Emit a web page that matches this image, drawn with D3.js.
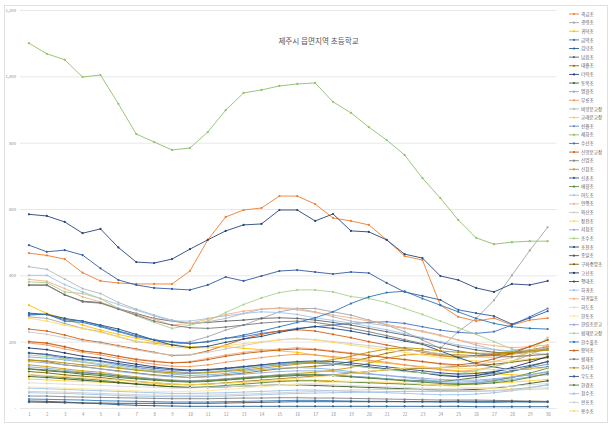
<!DOCTYPE html>
<html><head><meta charset="utf-8">
<script src="https://cdn.jsdelivr.net/npm/d3@7"></script>
<style>
body{margin:0;background:#fff}
svg{display:block}
text{font-family:"Noto Sans CJK KR","Noto Sans",sans-serif}
</style>
</head><body>
<svg id="chart" width="612" height="424"></svg>
<script>
const chartTitle = "제주시 읍면지역 초등학교";
const categories = [1,2,3,4,5,6,7,8,9,10,11,12,13,14,15,16,17,18,19,20,21,22,23,24,25,26,27,28,29,30];
const yTicks = [0,200,400,600,800,1000,1200];
const yTickLabels = ["-","200","400","600","800","1,000","1,200"];
const schoolNames = ["곽금초","광령초","귀덕초","금악초","김녕초","납읍초","대흘초","더럭초","동복초","명월초","무릉초","비양분교장","교래분교장","선흘초","세화초","수산초","신양분교장","신엄초","신창초","신촌초","애월초","어도초","연평초","와산초","장전초","저청초","조수초","조천초","종달초","구좌중앙초","고산초","평대초","하귀초","하귀일초","하도초","한동초","한림초분교","협재분교장","한수풀초","함덕초","협재초","추자초","우도초","한경초","청수초","판포초","용수초"];
const seriesColors = ["#ED7D31","#A5A5A5","#FFC000","#4472C4","#255E91","#636363","#997300","#264478","#43682B","#7CAFDD","#F1975A","#B7B7B7","#FFCD33","#698ED0","#8CC168","#327DC2","#D26012","#848484","#CC9A00","#335AA1","#5A8A39","#9DC3E6","#F4B183","#C9C9C9","#FFD966","#8FAADC","#A9D18E","#1F4E79","#525252","#7F6000","#203864","#375623","#9DC3E6","#F4B183","#DBDBDB","#FFE699","#8FAADC","#A9D18E","#2E75B6","#C55A11","#7B7B7B","#BF9000","#2F5597","#548235","#9DC3E6","#D0CECE","#FFD966"];
const seriesValues = [
 [467,460,449,408,383,377,374,374,374,413,507,576,597,603,639,639,615,573,564,552,507,458,446,310,275,262,271,250,265,271],
 [275,270,255,240,230,215,200,195,190,200,215,235,250,270,290,300,300,290,280,265,250,230,205,180,230,270,325,400,475,545],
 [310,285,270,250,235,222,210,200,190,185,182,185,180,176,172,168,160,152,145,140,135,130,125,118,112,108,104,100,98,100],
 [280,283,262,258,245,230,215,205,200,195,200,210,215,225,232,240,245,250,255,258,260,255,245,235,228,225,230,250,275,300],
 [21,20,18,15,13,10,8,7,6,5,5,5,5,5,5,5,5,5,5,5,5,5,5,5,5,4,4,4,4,4],
 [371,371,341,322,318,300,285,270,262,255,258,262,265,270,272,270,265,258,250,240,230,220,210,198,185,175,168,165,170,175],
 [145,140,130,125,118,112,106,100,96,92,95,100,105,112,118,122,126,130,140,152,165,175,172,162,160,158,160,165,175,185],
 [584,579,561,527,540,484,440,437,449,479,507,534,552,555,597,597,564,585,534,531,507,464,452,398,386,362,350,374,371,383],
 [118,112,108,102,98,92,88,84,80,78,80,84,88,92,95,98,100,98,95,92,88,84,82,80,85,92,100,110,125,140],
 [154,150,145,138,130,122,115,108,102,98,100,104,110,116,120,122,120,116,110,104,98,92,86,80,78,80,85,92,100,110],
 [196,190,178,168,160,150,140,132,126,125,130,138,145,152,158,162,160,155,150,144,138,130,122,115,110,115,125,140,160,185],
 [426,418,389,360,345,318,298,280,265,255,260,270,285,298,302,300,290,275,262,255,248,240,232,220,205,190,176,168,172,178],
 [87,85,82,80,78,76,74,72,70,70,72,75,78,80,82,84,84,82,80,78,76,74,72,70,70,72,75,78,82,86],
 [166,160,150,145,140,130,122,115,110,106,108,112,118,125,130,135,135,132,128,122,118,112,106,100,96,98,104,112,122,132],
 [1100,1068,1050,998,1004,917,826,802,778,784,832,898,950,959,971,977,980,923,890,847,808,763,693,633,567,513,494,500,503,503],
 [27,26,25,24,22,21,20,19,18,18,18,19,20,21,22,23,23,22,21,20,20,19,19,18,18,17,17,18,18,19],
 [238,232,220,206,198,188,178,168,158,160,172,190,208,222,232,236,232,222,212,200,190,180,168,158,152,156,162,170,185,205],
 [36,36,34,33,32,31,30,29,28,28,28,29,30,30,31,31,30,30,29,28,27,26,25,24,24,24,23,22,21,20],
 [130,125,118,112,108,100,94,88,84,82,84,88,92,96,100,104,108,114,122,135,150,160,162,158,155,155,158,162,168,175],
 [491,471,476,461,421,386,371,362,359,356,371,395,383,398,413,416,410,404,410,407,377,350,338,326,296,286,277,253,271,292],
 [100,96,92,88,84,78,72,68,64,62,64,68,72,76,80,82,82,80,78,76,74,72,70,68,70,75,82,92,105,120],
 [400,400,372,350,330,312,295,278,262,262,270,278,285,290,288,282,272,264,256,246,236,224,212,200,190,182,176,172,175,180],
 [388,382,360,335,320,300,282,268,250,255,268,282,292,298,300,296,288,280,272,262,252,242,230,218,205,195,188,182,185,190],
 [229,222,212,202,195,185,175,166,160,160,168,178,188,198,206,210,206,200,194,188,182,176,170,164,158,154,152,154,158,164],
 [271,262,250,240,228,215,202,192,184,180,182,188,194,200,205,208,205,198,190,182,175,168,160,152,146,142,140,142,148,155],
 [140,136,130,124,118,110,104,98,94,92,94,98,102,106,110,112,112,110,106,102,98,94,90,86,84,84,88,94,100,108],
 [380,378,350,345,330,300,278,258,240,250,262,288,312,332,348,356,356,350,336,330,318,300,282,262,242,222,200,178,168,160],
 [286,282,270,262,250,238,222,205,190,182,186,198,208,216,228,238,246,240,232,222,212,202,192,172,152,134,124,114,118,124],
 [18,17,16,15,15,14,14,14,14,14,14,15,16,17,18,19,19,19,19,19,19,19,19,19,20,20,20,20,19,18],
 [110,106,100,96,92,86,80,76,72,70,72,76,80,84,88,92,96,100,105,110,115,118,120,122,125,128,132,138,145,152],
 [181,176,166,156,150,140,132,124,118,114,116,120,125,130,134,138,138,134,130,124,118,112,106,98,94,98,108,122,138,155],
 [95,92,88,84,80,76,72,68,64,62,62,64,66,68,70,70,68,66,64,62,60,58,56,54,54,56,60,66,74,82],
 [60,58,56,54,52,50,48,46,44,44,45,46,48,50,52,54,54,52,50,48,46,44,42,40,40,42,46,52,60,70],
 [199,194,184,172,165,156,148,142,136,140,150,160,168,174,178,182,178,172,166,160,152,146,140,132,126,130,140,152,168,190],
 [76,74,72,70,68,66,64,62,60,60,62,64,66,68,70,72,72,70,68,66,64,62,60,58,58,60,62,66,70,74],
 [63,62,60,58,56,54,52,50,50,50,52,56,60,64,68,72,75,78,80,80,78,76,72,68,64,60,58,58,60,62],
 [124,120,114,108,104,98,92,88,84,82,84,88,92,96,100,102,102,100,96,92,88,84,80,76,74,76,80,86,94,102],
 [160,155,148,140,134,126,118,112,106,104,108,114,120,128,134,138,138,134,128,122,116,110,106,102,104,112,124,140,170,212],
 [283,282,266,262,248,232,218,206,198,194,200,210,220,232,245,258,272,290,315,335,348,352,330,310,290,270,255,245,240,238],
 [200,196,185,172,166,156,146,140,136,138,146,156,164,170,175,178,176,170,164,158,152,146,140,134,130,136,148,165,185,205],
 [370,370,342,320,316,298,280,262,250,242,240,244,250,256,260,262,258,250,240,230,218,206,194,182,172,164,158,155,158,162],
 [145,142,136,130,126,120,114,110,106,104,106,110,114,120,126,132,138,146,156,168,178,182,178,172,168,165,165,168,172,178],
 [166,162,154,148,142,134,126,120,115,112,114,118,124,130,136,140,142,140,136,130,124,118,112,106,102,104,110,118,128,140],
 [118,115,110,106,102,96,90,86,82,80,82,86,90,94,98,100,100,98,94,90,86,82,78,74,72,72,76,82,92,104],
 [46,45,44,42,40,38,36,35,34,34,35,36,38,40,42,44,45,46,47,48,49,50,50,50,50,50,52,56,62,70],
 [50,49,48,46,44,42,40,39,38,38,39,40,42,44,46,48,50,52,54,55,56,56,55,54,53,52,52,54,56,58],
 [100,98,95,92,88,84,80,76,72,70,72,75,78,82,86,90,94,98,104,110,116,120,122,122,120,118,116,116,118,122]
];

const svg = d3.select("#chart");
const plot = {left:20, right:556.6, top:10, bottom:408};

svg.append("rect").attr("x",4.5).attr("y",5.5).attr("width",603).attr("height",417)
  .attr("fill","#fff").attr("stroke","#D9D9D9").attr("stroke-width",0.8);

const x = d3.scalePoint().domain(categories).range([plot.left, plot.right]).padding(0.5);
const y = d3.scaleLinear().domain([0,1200]).range([plot.bottom, plot.top]);

const yAxis = d3.axisLeft(y).tickValues(yTicks).tickSize(-(plot.right-plot.left))
  .tickFormat((d,i)=>yTickLabels[i]);
const gy = svg.append("g").attr("transform",`translate(${plot.left},0)`).call(yAxis);
gy.select(".domain").remove();
gy.selectAll(".tick line").attr("stroke","#D9D9D9").attr("stroke-width",0.6);
gy.selectAll(".tick text").attr("x",-4).attr("fill","#8C8C8C").style("font-size","4.2px");

const xAxis = d3.axisBottom(x).tickSize(0).tickPadding(5);
const gx = svg.append("g").attr("transform",`translate(0,${plot.bottom})`).call(xAxis);
gx.select(".domain").remove();
gx.selectAll(".tick text").attr("fill","#8C8C8C").style("font-size","4.4px");

svg.append("text").attr("x",318.5).attr("y",43.5).attr("text-anchor","middle")
  .attr("fill","#595959").style("font-size","7.6px").text(chartTitle);

const line = d3.line().x((d,i)=>x(categories[i])).y(d=>y(d));
const series = schoolNames.map((name,i)=>({name, color:seriesColors[i], values:seriesValues[i]}));

const gs = svg.append("g").selectAll("g").data(series).join("g");
gs.append("path").attr("d",d=>line(d.values)).attr("fill","none")
  .attr("stroke",d=>d.color).attr("stroke-width",0.9).attr("stroke-linejoin","round");
gs.selectAll("circle").data(d=>d.values.map((v,i)=>({v,i,c:d.color}))).join("circle")
  .attr("cx",d=>x(categories[d.i])).attr("cy",d=>y(d.v)).attr("r",1.1).attr("fill",d=>d.c);

const leg = svg.append("g").selectAll("g").data(series).join("g")
  .attr("transform",(d,i)=>`translate(569,${14 + i*8.63})`);
leg.append("line").attr("x1",0).attr("x2",10).attr("stroke",d=>d.color).attr("stroke-width",0.9);
leg.append("circle").attr("cx",5).attr("r",1.1).attr("fill",d=>d.color);
leg.append("text").attr("x",12).attr("dy","0.35em").attr("fill","#595959")
  .style("font-size","4.6px").text(d=>d.name);
</script>
</body></html>
